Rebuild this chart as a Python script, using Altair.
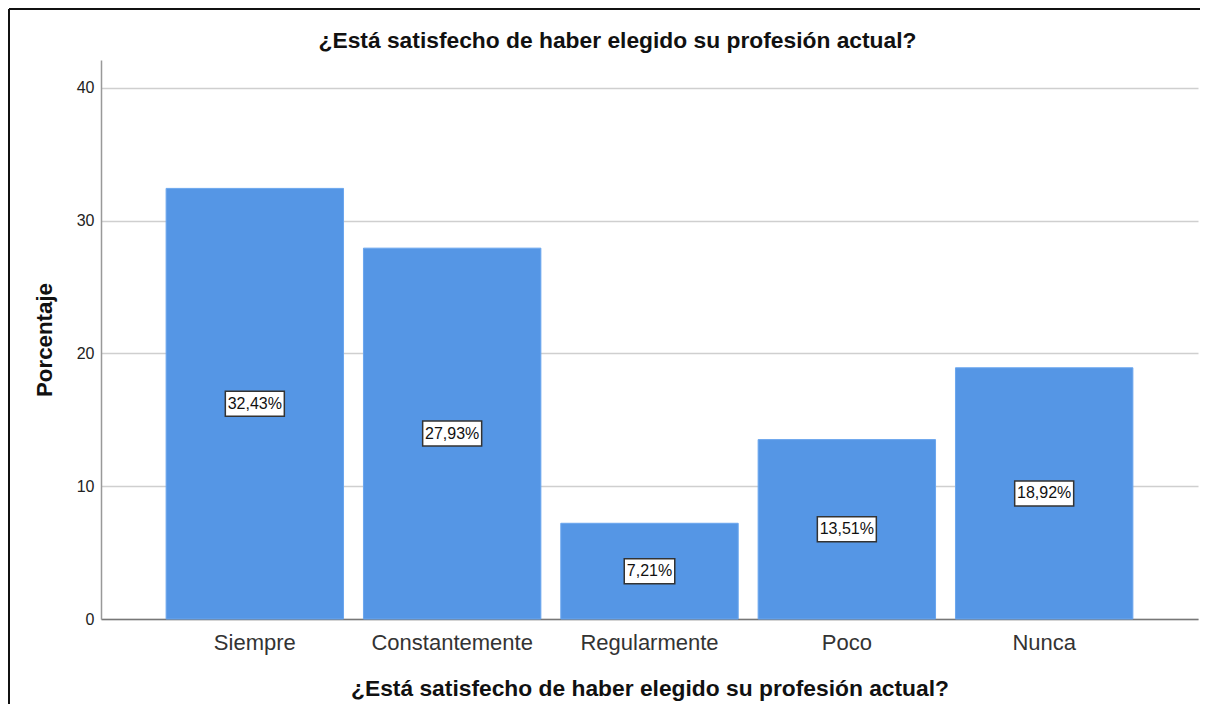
import altair as alt
import pandas as pd

categories = ["Siempre", "Constantemente", "Regularmente", "Poco", "Nunca"]
values = [32.43, 27.93, 7.21, 13.51, 18.92]
y_ticks = [0, 10, 20, 30, 40]

title_text = "¿Está satisfecho de haber elegido su profesión actual?"

df = pd.DataFrame({"cat": categories, "value": values})

FONT = "Liberation Sans"
W, H = 1097, 559

x = alt.X(
    "cat:N",
    sort=categories,
    scale=alt.Scale(paddingInner=0.101, paddingOuter=0.33),
    axis=alt.Axis(
        title=title_text,
        labelAngle=0,
        labelFontSize=22,
        labelColor="#333333",
        labelFont=FONT,
        labelPadding=13,
        ticks=False,
        domainColor="#777777",
        domainWidth=1.5,
        titleFont=FONT,
        titleFontSize=22.8,
        titleFontWeight="bold",
        titleColor="#111111",
        titlePadding=24,
    ),
)

y_axis = alt.Axis(
    title="Porcentaje",
    values=y_ticks,
    grid=True,
    gridColor="#cfcfcf",
    gridWidth=1.5,
    ticks=False,
    labelFont=FONT,
    labelFontSize=16,
    labelColor="#222222",
    labelPadding=7,
    domainColor="#999999",
    domainWidth=1.5,
    titleFont=FONT,
    titleFontSize=22.3,
    titleFontWeight="bold",
    titleColor="#111111",
    titlePadding=20,
)

base = alt.Chart(df)

bars = base.mark_bar(color="#5596E5", stroke="#6aa6ee", strokeWidth=1).encode(
    x=x,
    y=alt.Y("value:Q", scale=alt.Scale(domain=[0, 42.1], nice=False), axis=y_axis),
)

labelled = base.transform_calculate(
    mid="datum.value / 2",
    label="replace(format(datum.value, '.2f'), '.', ',') + '%'",
).transform_calculate(
    boxw="length(datum.label) * 8.5 + 8",
).transform_calculate(
    boxsize="pow(datum.boxw, 2)",
    boxshape="'M-1,-' + (25 / datum.boxw) + 'L1,-' + (25 / datum.boxw) + 'L1,' + (25 / datum.boxw) + 'L-1,' + (25 / datum.boxw) + 'Z'",
)

boxes = labelled.mark_point(
    filled=True,
    fill="white",
    stroke="#333333",
    strokeWidth=1.5,
    opacity=1,
).encode(
    x=alt.X("cat:N", sort=categories),
    y=alt.Y("mid:Q"),
    size=alt.Size("boxsize:Q", scale=None, legend=None),
    shape=alt.Shape("boxshape:N", scale=None, legend=None),
)

texts = labelled.mark_text(font=FONT, fontSize=16, color="#111111", baseline="middle").encode(
    x=alt.X("cat:N", sort=categories),
    y=alt.Y("mid:Q"),
    text="label:N",
)

frame_top = alt.Chart(df).mark_rule(color="#111111", strokeWidth=2).encode(
    x=alt.value(-92), x2=alt.value(W + 12), y=alt.value(-51)
)
frame_left = alt.Chart(df).mark_rule(color="#111111", strokeWidth=2).encode(
    x=alt.value(-92), y=alt.value(-51), y2=alt.value(H + 96)
)

chart = (
    alt.layer(bars, boxes, texts, frame_top, frame_left)
    .properties(
        width=W,
        height=H,
        autosize=alt.AutoSizeParams(type="none"),
        padding={"left": 93, "top": 52, "right": 2, "bottom": 85},
        title=alt.TitleParams(
            text=title_text,
            font=FONT,
            fontSize=22.8,
            fontWeight="bold",
            color="#111111",
            anchor="middle",
            dx=-32,
            offset=-45,
        ),
    )
    .configure(background="white")
    .configure_view(strokeWidth=0, stroke="transparent")
)

chart.save("out.html", embed_options={"renderer": "svg", "actions": False})
